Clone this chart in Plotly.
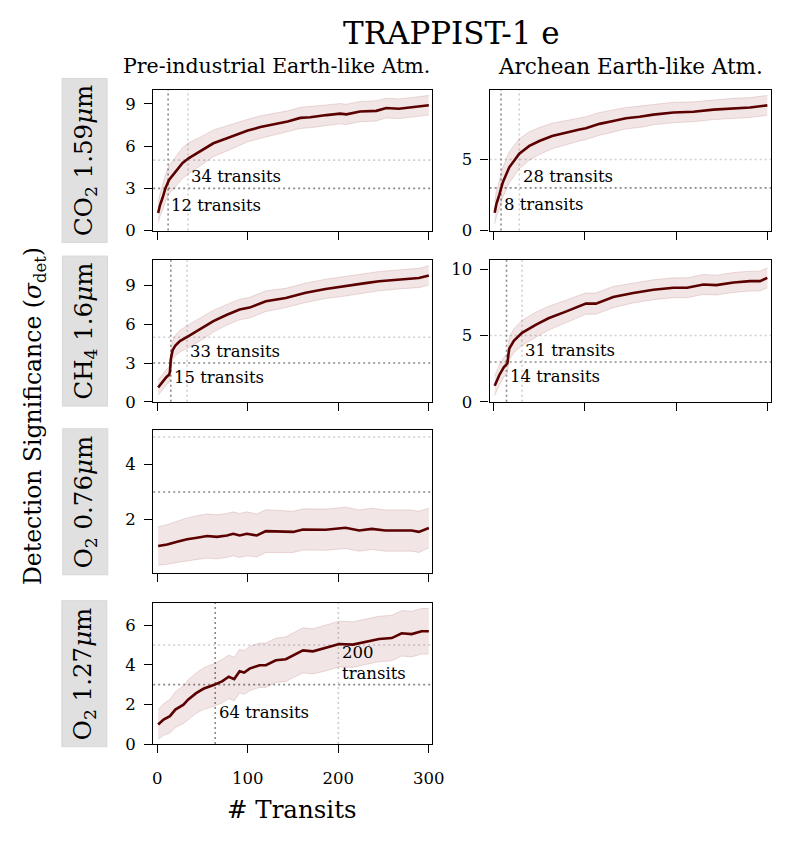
import plotly.graph_objects as go

# x tick positions shared by all panels
transit_ticks = [0, 100, 200, 300]

# CO2 1.59um, pre-industrial
co2_pre_x = [1, 3, 6, 9, 13, 20, 28, 35, 48, 62, 77, 91, 100, 114, 129, 144, 158, 169, 187, 202, 209, 224, 242, 253, 267, 282, 300]
co2_pre_y = [1.25, 1.8, 2.35, 3.0, 3.6, 4.2, 4.8, 5.15, 5.65, 6.2, 6.55, 6.9, 7.1, 7.35, 7.55, 7.75, 8.0, 8.05, 8.2, 8.3, 8.25, 8.45, 8.5, 8.7, 8.65, 8.75, 8.9]
co2_pre_hw = [0.7, 0.8, 0.9, 0.95, 1.0, 1.05, 1.1, 1.1, 1.0, 0.95, 0.9, 0.85, 0.8, 0.8, 0.78, 0.75, 0.75, 0.75, 0.72, 0.72, 0.72, 0.72, 0.72, 0.7, 0.7, 0.7, 0.7]
co2_pre_det = [12, 34]

# CO2 1.59um, Archean
co2_arc_x = [1, 3, 6, 10, 17, 28, 39, 50, 64, 79, 94, 101, 116, 131, 145, 160, 175, 197, 219, 241, 263, 281, 300]
co2_arc_y = [1.25, 1.9, 2.5, 3.4, 4.45, 5.4, 5.95, 6.3, 6.65, 6.9, 7.1, 7.2, 7.5, 7.7, 7.9, 8.0, 8.15, 8.3, 8.35, 8.5, 8.6, 8.65, 8.8]
co2_arc_hw = [0.8, 0.9, 1.0, 1.05, 1.1, 1.05, 1.0, 0.95, 0.9, 0.85, 0.8, 0.8, 0.8, 0.78, 0.75, 0.75, 0.72, 0.72, 0.7, 0.7, 0.7, 0.7, 0.7]
co2_arc_det = [8, 28]

# CH4 1.6um, pre-industrial
ch4_pre_x = [1, 6, 10, 13, 14, 15, 17, 20, 25, 35, 47, 62, 77, 91, 102, 120, 142, 164, 186, 208, 230, 245, 267, 289, 300]
ch4_pre_y = [1.1, 1.6, 1.9, 2.1, 2.3, 3.3, 4.0, 4.35, 4.7, 5.1, 5.6, 6.25, 6.75, 7.15, 7.3, 7.8, 8.05, 8.45, 8.75, 8.95, 9.2, 9.35, 9.5, 9.6, 9.8]
ch4_pre_hw = [0.6, 0.6, 0.6, 0.6, 0.65, 0.7, 0.75, 0.8, 0.85, 0.9, 0.9, 0.85, 0.8, 0.8, 0.8, 0.8, 0.75, 0.75, 0.75, 0.75, 0.75, 0.75, 0.75, 0.75, 0.75]
ch4_pre_det = [15, 33]

# CH4 1.6um, Archean
ch4_arc_x = [1, 6, 11, 15, 16, 17, 22, 31, 46, 60, 79, 86, 101, 112, 131, 153, 175, 197, 212, 230, 244, 263, 281, 292, 300]
ch4_arc_y = [1.2, 2.0, 2.6, 2.9, 3.5, 4.0, 4.6, 5.2, 5.8, 6.3, 6.8, 7.0, 7.4, 7.4, 7.9, 8.2, 8.45, 8.6, 8.6, 8.85, 8.8, 9.0, 9.1, 9.1, 9.35]
ch4_arc_hw = [0.75, 0.75, 0.75, 0.75, 0.8, 0.85, 0.9, 0.95, 0.95, 0.9, 0.85, 0.85, 0.8, 0.8, 0.8, 0.75, 0.75, 0.75, 0.75, 0.75, 0.75, 0.75, 0.75, 0.75, 0.75]
ch4_arc_det = [14, 31]

# O2 0.76um, pre-industrial (never detected)
o2a_pre_x = [1, 11, 22, 33, 44, 55, 66, 77, 84, 91, 99, 110, 120, 150, 161, 186, 208, 223, 237, 252, 281, 289, 300]
o2a_pre_y = [1.04, 1.09, 1.19, 1.28, 1.34, 1.4, 1.37, 1.42, 1.48, 1.42, 1.48, 1.42, 1.58, 1.55, 1.64, 1.63, 1.7, 1.6, 1.66, 1.6, 1.6, 1.55, 1.69]
o2a_pre_hw = [0.7, 0.72, 0.75, 0.78, 0.8, 0.8, 0.8, 0.8, 0.8, 0.8, 0.8, 0.78, 0.78, 0.75, 0.75, 0.75, 0.75, 0.75, 0.75, 0.75, 0.75, 0.75, 0.72]
o2a_pre_det = []

# O2 1.27um, pre-industrial
o2b_pre_x = [1, 7, 14, 20, 29, 34, 43, 51, 63, 72, 79, 85, 91, 96, 102, 113, 120, 131, 142, 150, 161, 172, 186, 201, 216, 230, 245, 259, 270, 281, 292, 300]
o2b_pre_y = [0.99, 1.24, 1.41, 1.74, 1.99, 2.24, 2.57, 2.79, 2.99, 3.18, 3.4, 3.28, 3.68, 3.61, 3.81, 3.98, 3.98, 4.23, 4.28, 4.48, 4.73, 4.68, 4.84, 5.05, 5.02, 5.17, 5.3, 5.35, 5.59, 5.55, 5.69, 5.69]
o2b_pre_hw = [0.75, 0.8, 0.85, 0.9, 0.95, 1.0, 1.02, 1.05, 1.08, 1.1, 1.1, 1.1, 1.1, 1.1, 1.12, 1.12, 1.12, 1.12, 1.13, 1.13, 1.14, 1.14, 1.15, 1.15, 1.15, 1.15, 1.15, 1.15, 1.15, 1.15, 1.15, 1.15]
o2b_pre_det = [64, 200]

FONT = "DejaVu Serif"
LINE_COL = "#5a0000"
FILL_COL = "rgba(128,0,0,0.10)"
EDGE_COL = "rgba(128,0,0,0.13)"

# domains tuned so that the page (with its 8px body margin) lands where the reference has its axes
col_dom = [[0.1853, 0.5443], [0.6178, 0.9794]]
row_dom = [[0.7295, 0.9007], [0.5216, 0.6939], [0.3133, 0.4874], [0.1056, 0.2773]]

panels = [
    dict(x=co2_pre_x, y=co2_pre_y, hw=co2_pre_hw, det=co2_pre_det, r=0, c=0, yr=[0, 10.0], yt=[0, 3, 6, 9]),
    dict(x=co2_arc_x, y=co2_arc_y, hw=co2_arc_hw, det=co2_arc_det, r=0, c=1, yr=[0, 9.9], yt=[0, 5]),
    dict(x=ch4_pre_x, y=ch4_pre_y, hw=ch4_pre_hw, det=ch4_pre_det, r=1, c=0, yr=[0, 11.0], yt=[0, 3, 6, 9]),
    dict(x=ch4_arc_x, y=ch4_arc_y, hw=ch4_arc_hw, det=ch4_arc_det, r=1, c=1, yr=[0, 10.7], yt=[0, 5, 10]),
    dict(x=o2a_pre_x, y=o2a_pre_y, hw=o2a_pre_hw, det=o2a_pre_det, r=2, c=0, yr=[0.05, 5.26], yt=[2, 4]),
    dict(x=o2b_pre_x, y=o2b_pre_y, hw=o2b_pre_hw, det=o2b_pre_det, r=3, c=0, yr=[0, 7.13], yt=[0, 2, 4, 6]),
]

row_labels = ["CO<sub>2</sub> 1.59<i>μ</i>m", "CH<sub>4</sub> 1.6<i>μ</i>m",
              "O<sub>2</sub> 0.76<i>μ</i>m", "O<sub>2</sub> 1.27<i>μ</i>m"]

fig = go.Figure()
shapes = []
annotations = []

for i, p in enumerate(panels):
    n = "" if i == 0 else str(i + 1)
    xa, ya = "x" + n, "y" + n
    upper = [m + h for m, h in zip(p["y"], p["hw"])]
    lower = [m - h for m, h in zip(p["y"], p["hw"])]
    fig.add_trace(go.Scatter(x=p["x"], y=lower, mode="lines", line=dict(color=EDGE_COL, width=1),
                             xaxis=xa, yaxis=ya, hoverinfo="skip"))
    fig.add_trace(go.Scatter(x=p["x"], y=upper, mode="lines", line=dict(color=EDGE_COL, width=1),
                             fill="tonexty", fillcolor=FILL_COL, xaxis=xa, yaxis=ya, hoverinfo="skip"))
    fig.add_trace(go.Scatter(x=p["x"], y=p["y"], mode="lines", line=dict(color=LINE_COL, width=2.6),
                             xaxis=xa, yaxis=ya))

    bottom_left = (p["r"] == 3)
    fig.update_layout(**{
        "xaxis" + n: dict(domain=col_dom[p["c"]], range=[-4.5, 304], anchor=ya,
                          tickvals=transit_ticks, showticklabels=bottom_left,
                          ticks="outside", ticklen=8, tickwidth=1.4, tickcolor="black",
                          ticklabelstandoff=11,
                          showline=True, mirror=True, linecolor="black", linewidth=1.4,
                          showgrid=False, zeroline=False,
                          tickfont=dict(family=FONT, size=16.5, color="black")),
        "yaxis" + n: dict(domain=row_dom[p["r"]], range=p["yr"], anchor=xa,
                          tickvals=p["yt"], ticks="outside", ticklen=8, tickwidth=1.4, tickcolor="black",
                          ticklabelstandoff=5,
                          showline=True, mirror=True, linecolor="black", linewidth=1.4,
                          showgrid=False, zeroline=False,
                          tickfont=dict(family=FONT, size=16.5, color="black")),
    })

    # 3 and 5 sigma thresholds
    for lvl, col in [(3, "#8a8a8a"), (5, "#cfcfcf")]:
        shapes.append(dict(type="line", xref=xa + " domain", yref=ya, x0=0, x1=1, y0=lvl, y1=lvl,
                           line=dict(color=col, width=1.6, dash="2px,3px"), layer="below"))
    for k, t in enumerate(p["det"]):
        col = "#8a8a8a" if k == 0 else "#cfcfcf"
        shapes.append(dict(type="line", xref=xa, yref=ya + " domain", x0=t, x1=t, y0=0, y1=1,
                           line=dict(color=col, width=1.6, dash="2px,3px"), layer="below"))
        txt = f"{t} transits" if t < 150 else f"{t}<br>transits"
        annotations.append(dict(xref=xa, yref=ya, x=t + 1.5, y=1 if k == 0 else 3,
                                text=txt, showarrow=False, xanchor="left", yanchor="bottom", align="left",
                                font=dict(family=FONT, size=16.5, color="black")))

# row labels in grey boxes
for r, lab in enumerate(row_labels):
    annotations.append(dict(xref="paper", yref="paper", x=0.0974, y=sum(row_dom[r]) / 2,
                            xanchor="center", yanchor="middle",
                            text=lab, textangle=-90, showarrow=False,
                            bgcolor="#e0e0e0", bordercolor="#d8d8d8", borderwidth=1, borderpad=6,
                            font=dict(family=FONT, size=24.5, color="black")))

annotations += [
    dict(xref="paper", yref="paper", x=0.5683, y=0.970, text="TRAPPIST-1 e", showarrow=False,
         xanchor="center", yanchor="middle", font=dict(family=FONT, size=31, color="black")),
    dict(xref="paper", yref="paper", x=0.3443, y=0.9292, text="Pre-industrial Earth-like Atm.", showarrow=False,
         xanchor="center", yanchor="middle", font=dict(family=FONT, size=20.5, color="black")),
    dict(xref="paper", yref="paper", x=0.7986, y=0.9292, text="Archean Earth-like Atm.", showarrow=False,
         xanchor="center", yanchor="middle", font=dict(family=FONT, size=21.5, color="black")),
    dict(xref="paper", yref="paper", x=0.0321, y=0.5042, text="Detection Significance (<i>σ</i><sub>det</sub>)",
         xanchor="center", yanchor="middle", textangle=-90, showarrow=False,
         font=dict(family=FONT, size=23.5, color="black")),
    dict(xref="paper", yref="paper", x=0.3635, y=0.026, text="# Transits", showarrow=False,
         xanchor="center", yanchor="middle", font=dict(family=FONT, size=24.5, color="black")),
]

fig.update_layout(width=791, height=833, margin=dict(l=0, r=0, t=0, b=0),
                  plot_bgcolor="white", paper_bgcolor="white", showlegend=False,
                  shapes=shapes, annotations=annotations)

fig.write_html("out.html")
